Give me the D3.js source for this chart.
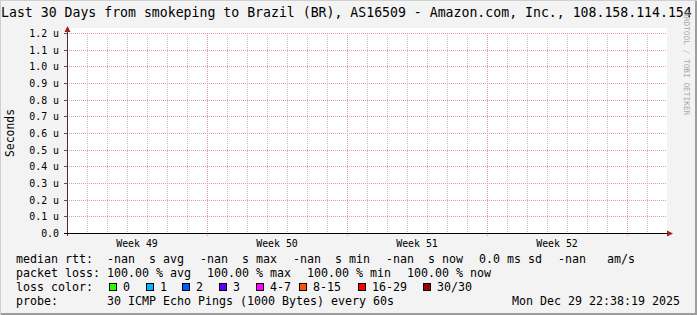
<!DOCTYPE html>
<html>
<head>
<meta charset="utf-8">
<script src="https://cdn.jsdelivr.net/npm/d3@7"></script>
<style>
body{margin:0;background:#f3f3f3;}
text{font-family:"DejaVu Sans Mono",monospace;white-space:pre;}
</style>
</head>
<body>
<div id="chart"></div>
<script>
// chart values
var title="Last 30 Days from smokeping to Brazil (BR), AS16509 - Amazon.com, Inc., 108.158.114.154";
var yTicks=[0,0.1,0.2,0.3,0.4,0.5,0.6,0.7,0.8,0.9,1.0,1.1,1.2];
var yLabels=["0.0","0.1 u","0.2 u","0.3 u","0.4 u","0.5 u","0.6 u","0.7 u","0.8 u","0.9 u","1.0 u","1.1 u","1.2 u"];
var days=30;
var weekLabels=["Week 49","Week 50","Week 51","Week 52"];
var medianRtt=["-nan  s avg","-nan  s max","-nan  s min","-nan  s now","0.0 ms sd","-nan   am/s"];
var packetLoss=["100.00 % avg","100.00 % max","100.00 % min","100.00 % now"];
var lossLabels=["0","1","2","3","4-7","8-15","16-29","30/30"];
var lossColors=["#26ff00","#00b8ff","#0059ff","#5e00ff","#ff00ff","#ff5500","#ff0000","#a10000"];
var probeText="30 ICMP Echo Pings (1000 Bytes) every 60s";
var stamp="Mon Dec 29 22:38:19 2025";

var width=697,height=315;
var pL=67,pR=667,pT=33,pB=233;
var cw=7; // legend char width

var svg=d3.select("#chart").append("svg")
	.attr("width",width).attr("height",height);

svg.append("rect").attr("width",width).attr("height",height).attr("fill","#f3f3f3");
// frame
svg.append("rect").attr("x",width-2).attr("y",0).attr("width",2).attr("height",height).attr("fill","#9e9e9e");
svg.append("rect").attr("x",0).attr("y",height-2).attr("width",width).attr("height",2).attr("fill","#9e9e9e");
svg.append("rect").attr("x",0).attr("y",0).attr("width",1).attr("height",height).attr("fill","#d0d0d0");
svg.append("rect").attr("x",0).attr("y",0).attr("width",width).attr("height",1).attr("fill","#d0d0d0");

var x=d3.scaleLinear().domain([0,days]).range([pL,pR]);
var y=d3.scaleLinear().domain([0,1.2]).range([pB,pT]);

//canvas
svg.append("rect").attr("x",pL).attr("y",28).attr("width",pR-pL).attr("height",pB-28).attr("fill","#ffffff");

svg.append("text").attr("x",1).attr("y",17).attr("font-size","13.2px").attr("fill","#000").text(title);

// vertical grid
var dayIdx=d3.range(1,days);
svg.selectAll(".vgrid").data(dayIdx).enter().append("line")
	.attr("class","vgrid")
	.attr("x1",d=>x(d)+0.5).attr("x2",d=>x(d)+0.5)
	.attr("y1",pT).attr("y2",function(d){return d%7==0?pB+3:pB;})
	.attr("stroke",function(d){return d%7==0?"#e49a9a":"#c4c4c4";})
	.attr("stroke-dasharray","1,1");

// horizontal grid
svg.selectAll(".hgrid").data(yTicks.slice(1)).enter().append("line")
	.attr("class","hgrid")
	.attr("x1",pL).attr("x2",pR)
	.attr("y1",d=>Math.round(y(d))+0.5).attr("y2",d=>Math.round(y(d))+0.5)
	.attr("stroke","#e49a9a")
	.attr("stroke-dasharray","1,1");

svg.selectAll(".ytick").data(yTicks).enter().append("line")
	.attr("x1",pL-3).attr("x2",pL)
	.attr("y1",d=>Math.round(y(d))+0.5).attr("y2",d=>Math.round(y(d))+0.5)
	.attr("stroke","#555");

svg.selectAll(".ylab").data(yTicks).enter().append("text")
	.attr("x",59).attr("y",d=>Math.round(y(d))+4)
	.attr("text-anchor","end").attr("font-size","9.9px")
	.text((d,i)=>yLabels[i]);

// axes
svg.append("line").attr("x1",pL+0.5).attr("x2",pL+0.5).attr("y1",pB+3).attr("y2",30)
	.attr("stroke","#5a2a2a");
svg.append("line").attr("x1",pL-3).attr("x2",pR+1).attr("y1",pB+0.5).attr("y2",pB+0.5)
	.attr("stroke","#000");
svg.append("path").attr("d","M"+(pL-2.5)+",32 L"+(pL+3.5)+",32 L"+(pL+0.5)+",26 Z").attr("fill","#a02020");
svg.append("path").attr("d","M"+(pR)+","+(pB-2.5)+" L"+(pR)+","+(pB+3.5)+" L"+(pR+6)+","+(pB+0.5)+" Z").attr("fill","#a02020");

svg.selectAll(".wk").data(weekLabels).enter().append("text")
	.attr("x",(d,i)=>x(3.5+7*i)).attr("y",247)
	.attr("text-anchor","middle").attr("font-size","9.9px")
	.text(d=>d);

svg.append("text").attr("transform","translate(14,133) rotate(-90)")
	.attr("text-anchor","middle").attr("font-size","11.4px").text("Seconds");

svg.append("text").attr("transform","translate(684,12) rotate(90)")
	.attr("font-size","7.8px").attr("fill","#a8a8a8").text("RRDTOOL / TOBI OETIKER");

// legend
var lx=16,lfs="11.63px";
function row(label,items,yy){
	svg.append("text").attr("x",lx).attr("y",yy).attr("font-size",lfs).text(label);
	var pos=lx+13*cw;
	items.forEach(function(t){
		svg.append("text").attr("x",pos).attr("y",yy).attr("font-size",lfs).text(t);
		pos+=t.length*cw+16;
	});
}
row("median rtt:",medianRtt,263);
row("packet loss:",packetLoss,277);

svg.append("text").attr("x",lx).attr("y",291).attr("font-size",lfs).text("loss color:");
var bx=[109,146,182,219,256,299,358,423];
var lg=svg.selectAll(".lc").data(lossLabels).enter().append("g")
	.attr("transform",(d,i)=>"translate("+bx[i]+",0)");
lg.append("rect").attr("x",0.5).attr("y",283.5).attr("width",7).attr("height",7)
	.attr("fill",(d,i)=>lossColors[i]).attr("stroke","#000");
lg.append("text").attr("x",14).attr("y",291).attr("font-size",lfs).text(d=>d);

svg.append("text").attr("x",lx).attr("y",305).attr("font-size",lfs).text("probe:");
svg.append("text").attr("x",lx+13*cw).attr("y",305).attr("font-size",lfs).text(probeText);
svg.append("text").attr("x",680).attr("y",305).attr("text-anchor","end").attr("font-size",lfs).text(stamp);
</script>
</body>
</html>
